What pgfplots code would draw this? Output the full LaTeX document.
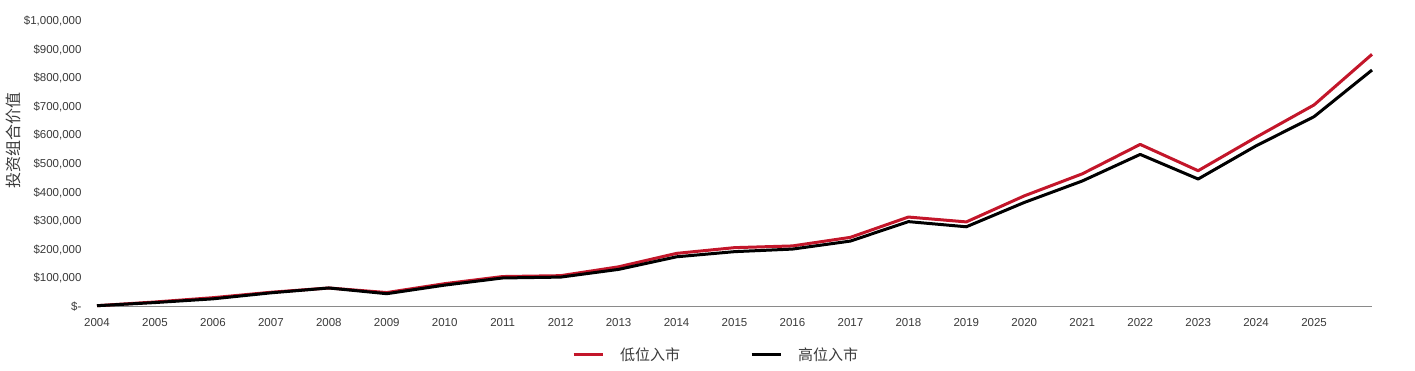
\documentclass[border=0pt]{standalone}
\usepackage{pgfplots}
\pgfplotsset{compat=1.18}
\usepackage{fontspec}
\setmainfont{Liberation Sans}
\newfontfamily\cjk{Noto Sans CJK SC}
\definecolor{lowred}{HTML}{C3162A}
\definecolor{txtgray}{HTML}{3A3A3A}
\definecolor{axgray}{HTML}{8A8A8A}
\begin{document}
\begin{tikzpicture}[x=1pt,y=1pt]
\path[use as bounding box] (0,0) rectangle (1415,371);
\begin{axis}[
  at={(97pt,65pt)}, anchor=south west,
  scale only axis, width=1275pt, height=286pt,
  xmin=0, xmax=22, ymin=0, ymax=1000000,
  scaled y ticks=false,
  axis x line*=bottom,
  axis y line*=left,
  y axis line style={draw=none},
  x axis line style={draw=axgray, line width=0.9pt},
  xtick={0,...,21},
  xticklabels={2004,2005,2006,2007,2008,2009,2010,2011,2012,2013,2014,2015,2016,2017,2018,2019,2020,2021,2022,2023,2024,2025},
  major tick length=0pt,
  xticklabel style={font=\fontsize{11.5}{13}\selectfont, text=txtgray, yshift=-9pt},
  ytick={0,100000,...,1000000},
  yticklabels={\$-,\$100{,}000,\$200{,}000,\$300{,}000,\$400{,}000,\$500{,}000,\$600{,}000,\$700{,}000,\$800{,}000,\$900{,}000,\$1{,}000{,}000},
  yticklabel style={font=\fontsize{11.5}{13}\selectfont, text=txtgray, anchor=east, xshift=-12pt, yshift=-1pt},
  ylabel={\cjk 投资组合价值},
  ylabel style={at={(axis description cs:-0.0655,0.58)}, anchor=center, rotate=0, font=\fontsize{16}{18}\selectfont, text=txtgray},
  legend style={at={(axis description cs:0.4855,0)}, anchor=center, yshift=-49pt, draw=none, fill=none,
    font=\cjk\fontsize{15}{17}\selectfont, text=txtgray,
    /tikz/every odd column/.append style={column sep=14pt},
    /tikz/every even column/.append style={column sep=68pt}},
  legend columns=2,
  legend image code/.code={\draw[#1, line width=3pt] (0pt,0pt) -- (29pt,0pt);},
  clip=false,
]
\addplot[lowred, line width=3pt, line join=round] coordinates {
(0,1000) (1,14000) (2,29000) (3,48000) (4,63000) (5,47000) (6,78000) (7,103000) (8,106000) (9,137000)
(10,184000) (11,204000) (12,210000) (13,240000) (14,311000) (15,294000) (16,385000) (17,462000)
(18,565000) (19,473000) (20,590000) (21,703000) (22,880000)};
\addlegendentry{低位入市}
\addplot[black, line width=3pt, line join=round] coordinates {
(0,1000) (1,12000) (2,25000) (3,46000) (4,63000) (5,43000) (6,73000) (7,98000) (8,101000) (9,128000)
(10,172000) (11,190000) (12,199000) (13,227000) (14,295000) (15,277000) (16,362000) (17,437000)
(18,530000) (19,444000) (20,560000) (21,662000) (22,825000)};
\addlegendentry{高位入市}
\end{axis}
\end{tikzpicture}
\end{document}
